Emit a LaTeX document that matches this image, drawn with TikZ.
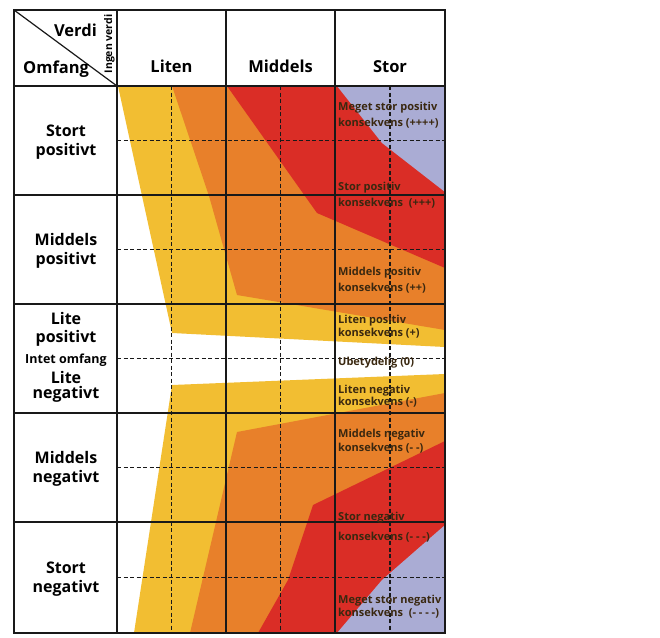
\documentclass[tikz,border=0pt]{standalone}
\usepackage{fontspec}
\setmainfont{Open Sans}
\definecolor{cyellow}{HTML}{F2BE32}
\definecolor{corange}{HTML}{E8802A}
\definecolor{cred}{HTML}{DA2D26}
\definecolor{clav}{HTML}{AAACD4}
\definecolor{ctext}{HTML}{3A2810}
\begin{document}
\begin{tikzpicture}[x=1pt,y=-1pt,
  grid/.style={line width=1.2pt,black!90},
  frame/.style={line width=1.6pt,black!90},
  dgrid/.style={line width=1.3pt,black!90,dash pattern=on 4pt off 2.5pt},
  hdr/.style={font=\fontsize{16.5}{20}\selectfont\bfseries,text=black,inner sep=0pt},
  rowlbl/.style={font=\fontsize{16}{20}\selectfont\bfseries,text=black,inner sep=0pt,anchor=base},
  smalllbl/.style={font=\fontsize{12.5}{14}\selectfont\bfseries,text=black,inner sep=0pt,anchor=base},
  cons/.style={font=\fontsize{11}{13}\selectfont\bfseries,text=ctext,anchor=base west,inner sep=0pt},
]
\useasboundingbox (0,0) rectangle (660,637);
\fill[white] (0,0) rectangle (660,637);
% positive bands
\fill[cyellow] (118,86) -- (172,333) -- (445,347) -- (445,86) -- cycle;
\fill[corange] (172,86) -- (209,196) -- (237,295) -- (445,330) -- (445,86) -- cycle;
\fill[cred] (227,86) -- (317,213) -- (445,268) -- (445,86) -- cycle;
\fill[clav] (337,86) -- (382,143) -- (445,192) -- (445,86) -- cycle;
% negative bands
\fill[cyellow] (172,385) -- (445,374) -- (445,633) -- (134,633) -- cycle;
\fill[corange] (237,432) -- (445,393) -- (445,633) -- (190,633) -- cycle;
\fill[cred] (445,441) -- (313,505) -- (288,580) -- (258,633) -- (445,633) -- cycle;
\fill[clav] (445,525) -- (382,580) -- (337,633) -- (445,633) -- cycle;
% dashed grid
\foreach \x in {171.5,280.5,390} \draw[dgrid] (\x,86) -- (\x,633);
\foreach \y in {140.5,249.5,358.5,467.5,577.5} \draw[dgrid] (117,\y) -- (445,\y);
% solid grid
\foreach \x in {117,226,335} \draw[grid] (\x,10) -- (\x,633);
\foreach \y in {86,195,304,413,522} \draw[grid] (14,\y) -- (445,\y);
\draw[grid] (14,10) -- (117,86);
\draw[frame] (14,10) rectangle (445,633);
% header
\node[hdr,anchor=base east] (verdi) at (97,36) {Verdi};
\node[hdr,anchor=base west] (omfang) at (23,73) {Omfang};
\node[font=\fontsize{10.5}{12}\selectfont\bfseries,text=black,rotate=90,anchor=base,inner sep=0pt] (ingen) at (112,44) {Ingen verdi};
\node[hdr,anchor=base] (liten) at (171.5,72) {Liten};
\node[hdr,anchor=base] (middels) at (280.5,72) {Middels};
\node[hdr,anchor=base] (stor) at (390,72) {Stor};
% row labels
\node[rowlbl] (r1a) at (66,136) {Stort};
\node[rowlbl] (r1b) at (66,155) {positivt};
\node[rowlbl] (r2a) at (66,245) {Middels};
\node[rowlbl] (r2b) at (66,264) {positivt};
\node[rowlbl] (r3a) at (66,324) {Lite};
\node[rowlbl] (r3b) at (66,342) {positivt};
\node[smalllbl] (r3c) at (66,363) {Intet omfang};
\node[rowlbl] (r3d) at (66,383) {Lite};
\node[rowlbl] (r3e) at (66,398) {negativt};
\node[rowlbl] (r4a) at (66,463) {Middels};
\node[rowlbl] (r4b) at (66,482) {negativt};
\node[rowlbl] (r5a) at (66,573) {Stort};
\node[rowlbl] (r5b) at (66,592) {negativt};
% consequence labels
\node[cons] (c1a) at (338,110) {Meget stor positiv};
\node[cons] (c1b) at (338,126) {konsekvens (++++)};
\node[cons] (c2a) at (338,190) {Stor positiv};
\node[cons] (c2b) at (338,206) {konsekvens\ \ (+++)};
\node[cons] (c3a) at (338,275) {Middels positiv};
\node[cons] (c3b) at (338,291) {konsekvens (++)};
\node[cons] (c4a) at (338,323) {Liten positiv};
\node[cons] (c4b) at (338,336) {konsekvens (+)};
\node[cons] (c5) at (338,365) {Ubetydelig (0)};
\node[cons] (c6a) at (338,393) {Liten negativ};
\node[cons] (c6b) at (338,405) {konsekvens (-)};
\node[cons] (c7a) at (338,437) {Middels negativ};
\node[cons] (c7b) at (338,451) {konsekvens (- -)};
\node[cons] (c8a) at (338,520) {Stor negativ};
\node[cons] (c8b) at (338,540) {konsekvens (- - -)};
\node[cons] (c9a) at (338,603) {Meget stor negativ};
\node[cons] (c9b) at (338,616) {konsekvens\ \ (- - - -)};
\end{tikzpicture}
\end{document}
